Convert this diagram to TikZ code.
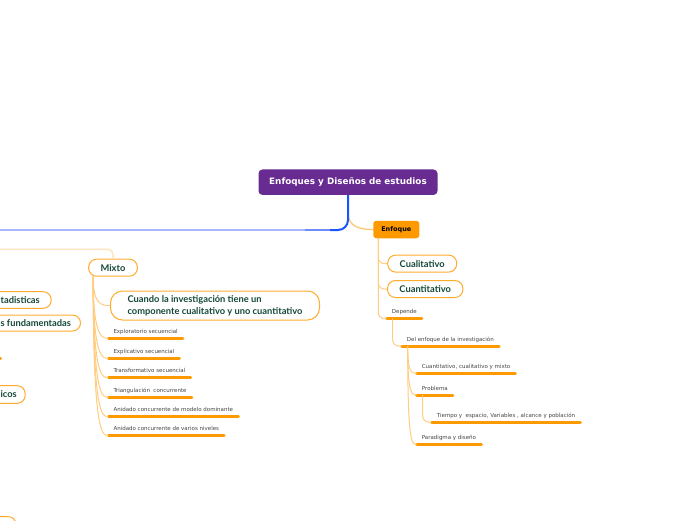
\documentclass[tikz,border=0pt]{standalone}
\usepackage{fontspec}
\newfontfamily\dejavu{DejaVu Sans}
\newfontfamily\lato{Lato}
\definecolor{rootpurple}{RGB}{104,43,145}
\definecolor{bluedark}{RGB}{25,85,255}
\definecolor{bluemid}{RGB}{110,140,255}
\definecolor{bluelight}{RGB}{170,182,255}
\definecolor{orng}{RGB}{255,153,0}
\definecolor{boxorng}{RGB}{255,172,45}
\definecolor{connorng}{RGB}{255,204,128}
\definecolor{paleorng}{RGB}{255,228,190}
\definecolor{lblgreen}{RGB}{20,72,56}
\definecolor{smallgray}{RGB}{68,68,68}
\tikzset{
  rootbox/.style={fill=rootpurple, rounded corners=4pt, text=white,
    font=\dejavu\bfseries\fontsize{8.8}{10}\selectfont,
    minimum width=179pt, minimum height=25.5pt, inner sep=0pt},
  enfbox/.style={fill=orng, rounded corners=3pt, text=black,
    font=\dejavu\bfseries\fontsize{6.5}{8}\selectfont,
    minimum width=46pt, minimum height=17.5pt, inner sep=0pt},
  gbox/.style={draw=boxorng, line width=1pt, fill=white, rounded corners=8pt,
    text=lblgreen, font=\lato\bfseries\fontsize{9.3}{11.7}\selectfont,
    inner xsep=12pt, inner ysep=0pt, minimum height=17pt},
  gtext/.style={text=lblgreen, font=\lato\bfseries\fontsize{9.3}{11.7}\selectfont,
    inner sep=0pt, anchor=west},
  sub/.style={anchor=south west, text=smallgray,
    font=\dejavu\fontsize{5.5}{6.5}\selectfont,
    inner xsep=5pt, inner ysep=3.5pt, text height=4pt, text depth=1.3pt},
  uline/.style={draw=orng, line width=3pt, line cap=round},
  conn/.style={draw=connorng, line width=1pt},
}
\newcommand{\subnode}[3]{%
  \node[sub] (#1) at (#2) {#3};
  \draw[uline] (#1.south west) -- (#1.south east);}
\begin{document}
\begin{tikzpicture}[x=1pt,y=-1pt]
\useasboundingbox (0,0) rectangle (696,520);
\clip (0,0) rectangle (696,520);

% root
\node[rootbox] (root) at (348,182.2) {Enfoques y Diseños de estudios};

% Enfoque branch (drawn first, under the blue one)
\node[enfbox] (enf) at (396.3,229.5) {Enfoque};
\draw[draw=connorng!90!orng, line width=1.3pt] (root.south) -- ++(0,18)
  .. controls +(0,14) and +(-12,0) .. (enf.west);

% blue connector to the left
\coordinate (bA) at (330,230);
\coordinate (bB) at (305,230);
\coordinate (bC) at (-10,230);
\draw[bluedark, line width=2pt, rounded corners=10pt] (root.south) -- (root.south |- bA) -- (bA);
\draw[bluemid, line width=1.6pt] (bA) -- (bB);
\draw[bluelight, line width=1.3pt] (bB) -- (bC);

\node[gbox, minimum width=68pt] (cual) at (422.2,263.6) {Cualitativo};
\node[gbox, minimum width=74pt] (cuan) at (425.2,289) {Cuantitativo};
\subnode{dep}{386.7,318.7}{Depende}
\draw[conn, rounded corners=6pt] ([xshift=-18pt]enf.south) |- (cual.west);
\draw[conn, rounded corners=6pt] ([xshift=-18pt]enf.south) |- (cuan.west);
\draw[conn, rounded corners=6pt] ([xshift=-18pt]enf.south) |- (dep.south west);

\subnode{del}{401.7,346}{Del enfoque de la investigación}
\draw[conn, rounded corners=6pt] ([xshift=6pt]dep.south west) |- (del.south west);

\subnode{cqm}{416.7,373.3}{Cuantitativo, cualitativo y mixto}
\subnode{prob}{416.7,395}{Problema}
\subnode{tie}{431.7,422}{Tiempo y~ espacio, Variables , alcance y población}
\subnode{par}{416.7,444.3}{Paradigma y diseño}
\coordinate (df) at ([xshift=6pt]del.south west);
\foreach \c in {cqm,prob,par}
  \draw[conn] (df) .. controls (df |- \c.south west) and ([xshift=-5pt]\c.south west) .. (\c.south west);
\draw[conn, rounded corners=6pt] ([xshift=6pt]prob.south west) |- (tie.south west);

% Mixto branch
\node[gbox, minimum width=46pt] (mix) at (113,267.7) {Mixto};
\coordinate (pl) at (-10,249.3);
\draw[draw=paleorng, line width=1.5pt, rounded corners=5pt] (pl) -| (mix.north);

\node[gbox, minimum width=209pt, minimum height=29pt, rounded corners=12pt, align=left, anchor=west]
  (cuando) at (110,305.5) {Cuando la investigación tiene un\\componente cualitativo y uno cuantitativo};

\subnode{exp}{108.3,338.3}{Exploratorio secuencial}
\subnode{expl}{108.3,358.3}{Explicativo secuencial}
\subnode{tra}{108.3,377.7}{Transformativo secuencial}
\subnode{tri}{108.3,397.3}{Triangulación~ concurrente}
\subnode{anm}{108.3,416.7}{Anidado concurrente de modelo dominante}
\subnode{anv}{108.3,435.7}{Anidado concurrente de varios niveles}

\coordinate (mf) at ([xshift=5pt]mix.south west);
\draw[conn] (mf) .. controls (mf |- cuando.west) and ([xshift=-8pt]cuando.west) .. (cuando.west);
\foreach \c in {exp,expl,tra,tri,anm,anv}
  \draw[conn] (mf) .. controls (mf |- \c.south west) and ([xshift=-6pt]\c.south west) .. (\c.south west);

% partially visible nodes at the left edge
\node[gbox, minimum width=90pt, minimum height=16.6pt, anchor=east] (estbox) at (51.7,300) {};
\node[gtext] (est) at (0.4,300) {tadisticas};
\node[gbox, minimum width=120pt, minimum height=16pt, anchor=east] (funbox) at (81,323) {};
\node[gtext] (fun) at (0.4,323) {s fundamentadas};
\node[gbox, minimum width=60pt, minimum height=17.6pt, anchor=east] (icobox) at (25.7,394.5) {};
\node[gtext] (ico) at (0.4,394.5) {icos};
\coordinate (dotA) at (-10,358);
\coordinate (dotB) at (0.5,358);
\draw[uline] (dotA) -- (dotB);
\node[gbox, minimum width=60pt, minimum height=30pt, anchor=north east] (bot) at (16.5,516) {};
\end{tikzpicture}
\end{document}
